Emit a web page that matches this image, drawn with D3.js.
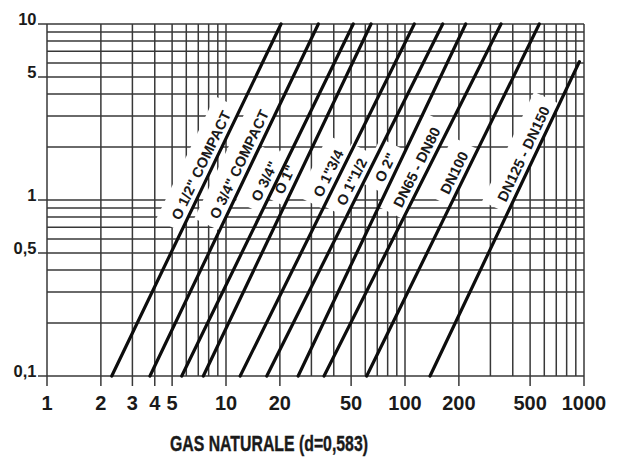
<!DOCTYPE html>
<html>
<head>
<meta charset="utf-8">
<script src="https://cdn.jsdelivr.net/npm/d3@7/dist/d3.min.js"></script>
<style>
  body { margin: 0; background: #fff; }
  svg { display: block; }
  text { font-family: "Liberation Sans", Arial, sans-serif; font-weight: bold; fill: #1a1a1a; }
</style>
</head>
<body>
<svg id="chart" width="625" height="466"></svg>
<script>
// Regulator sizes and their pressure-drop / flow curves (log-log straight lines)
const sizes = ['O 1/2" COMPACT', 'O 3/4" COMPACT', 'O 3/4"', 'O 1"', 'O 1"3/4', 'O 1"1/2', 'O 2"', 'DN65 - DN80', 'DN100', 'DN125 - DN150'];
// flow (m3/h) where each curve meets the lowest pressure drop
const flowAtMinDrop = [2.3, 3.76, 5.66, 7.47, 12.0, 16.9, 25.3, 35.3, 61.1, 138];
// flow and pressure drop at the upper end of each curve
const flowAtEnd = [20.3, 32.8, 51.4, 64.6, 112.7, 162.4, 218.3, 343.9, 562.5, 942];
const dropAtEnd = [10, 10, 10, 10, 10, 10, 10, 10, 10, 6.1];
const minDrop = 0.1;
// pressure drop at which each size label is centred along its curve
const labelDrop = [1.48, 1.50, 1.20, 1.23, 1.33, 1.19, 1.44, 1.44, 1.34, 1.72];

const xTickValues = [1, 2, 3, 4, 5, 10, 20, 50, 100, 200, 500, 1000];
const yTickValues = [0.1, 0.5, 1, 5, 10];
const yTickLabels = ["0,1", "0,5", "1", "5", "10"];
const title = "GAS NATURALE (d=0,583)";

const svg = d3.select("#chart");
const x = d3.scaleLog().domain([1, 1000]).range([47, 584]);
const y = d3.scaleLog().domain([0.1, 10]).range([376, 24]);
const [x0, x1] = x.range();
const [y0, y1] = y.range();

const gridColor = "#383838";

// vertical grid (every 1..9 of each decade)
const gGrid = svg.append("g").attr("stroke", gridColor).attr("stroke-width", 1.5);
gGrid.selectAll("line.v").data(x.ticks()).join("line")
  .attr("class", "v")
  .attr("x1", d => x(d)).attr("x2", d => x(d))
  .attr("y1", y1)
  .attr("y2", d => xTickValues.includes(d) ? y0 + 10 : y0);

// horizontal grid
gGrid.selectAll("line.h").data(y.ticks()).join("line")
  .attr("class", "h")
  .attr("y1", d => y(d)).attr("y2", d => y(d))
  .attr("x1", d => yTickValues.includes(d) ? x0 - 9 : x0)
  .attr("x2", x1);

// curve geometry in pixel space
const curves = sizes.map((name, i) => {
  const ax = x(flowAtMinDrop[i]), ay = y(minDrop);
  const bx = x(flowAtEnd[i]), by = y(dropAtEnd[i]);
  const dx = bx - ax, dy = by - ay, len = Math.hypot(dx, dy);
  const ux = dx / len, uy = dy / len;
  const t = (Math.log(labelDrop[i]) - Math.log(minDrop)) / (Math.log(dropAtEnd[i]) - Math.log(minDrop));
  const q = Math.exp(Math.log(flowAtMinDrop[i]) + t * (Math.log(flowAtEnd[i]) - Math.log(flowAtMinDrop[i])));
  return { name, ax, ay, bx, by, ux, uy, lx: x(q), ly: y(labelDrop[i]),
           angle: Math.atan2(dy, dx) * 180 / Math.PI };
});

// label groups, rotated along each curve, with a white backing over the grid
const labelOffset = 11;
const gBoxes = svg.append("g");
const gLines = svg.append("g");
const gLabels = svg.append("g");

gLines.selectAll("line").data(curves).join("line")
  .attr("x1", d => d.ax).attr("y1", d => d.ay)
  .attr("x2", d => d.bx).attr("y2", d => d.by)
  .attr("stroke", "#0d0d0d").attr("stroke-width", 3.2).attr("stroke-linecap", "round");

curves.forEach(c => {
  // normal pointing to the upper-left side of the curve
  const nx = c.uy, ny = -c.ux;
  const cx = c.lx + nx * labelOffset, cy = c.ly + ny * labelOffset;
  const g = gLabels.append("g").attr("transform", `translate(${cx},${cy}) rotate(${c.angle})`);
  const t = g.append("text")
    .attr("text-anchor", "middle")
    .attr("dy", "0.36em")
    .style("font-size", "14.5px")
    .text(c.name);
  const w = t.node().getComputedTextLength();
  gBoxes.append("rect")
    .attr("transform", `translate(${cx},${cy}) rotate(${c.angle})`)
    .attr("x", -w / 2 - 9).attr("y", -17)
    .attr("width", w + 18).attr("height", 29)
    .attr("fill", "#fff");
});

// axis labels
svg.append("g").selectAll("text").data(xTickValues).join("text")
  .attr("x", d => x(d)).attr("y", 410)
  .attr("text-anchor", "middle")
  .style("font-size", "20px")
  .text(d => d);

svg.append("g").selectAll("text").data(yTickValues).join("text")
  .attr("x", 36.5).attr("y", d => y(d) + 1)
  .attr("text-anchor", "end")
  .style("font-size", "16.5px")
  .text((d, i) => yTickLabels[i]);

svg.append("text")
  .attr("x", 170).attr("y", 451)
  .attr("textLength", 198).attr("lengthAdjust", "spacingAndGlyphs")
  .style("font-size", "22.5px")
  .attr("stroke", "#1a1a1a").attr("stroke-width", 0.4)
  .text(title);
</script>
</body>
</html>
